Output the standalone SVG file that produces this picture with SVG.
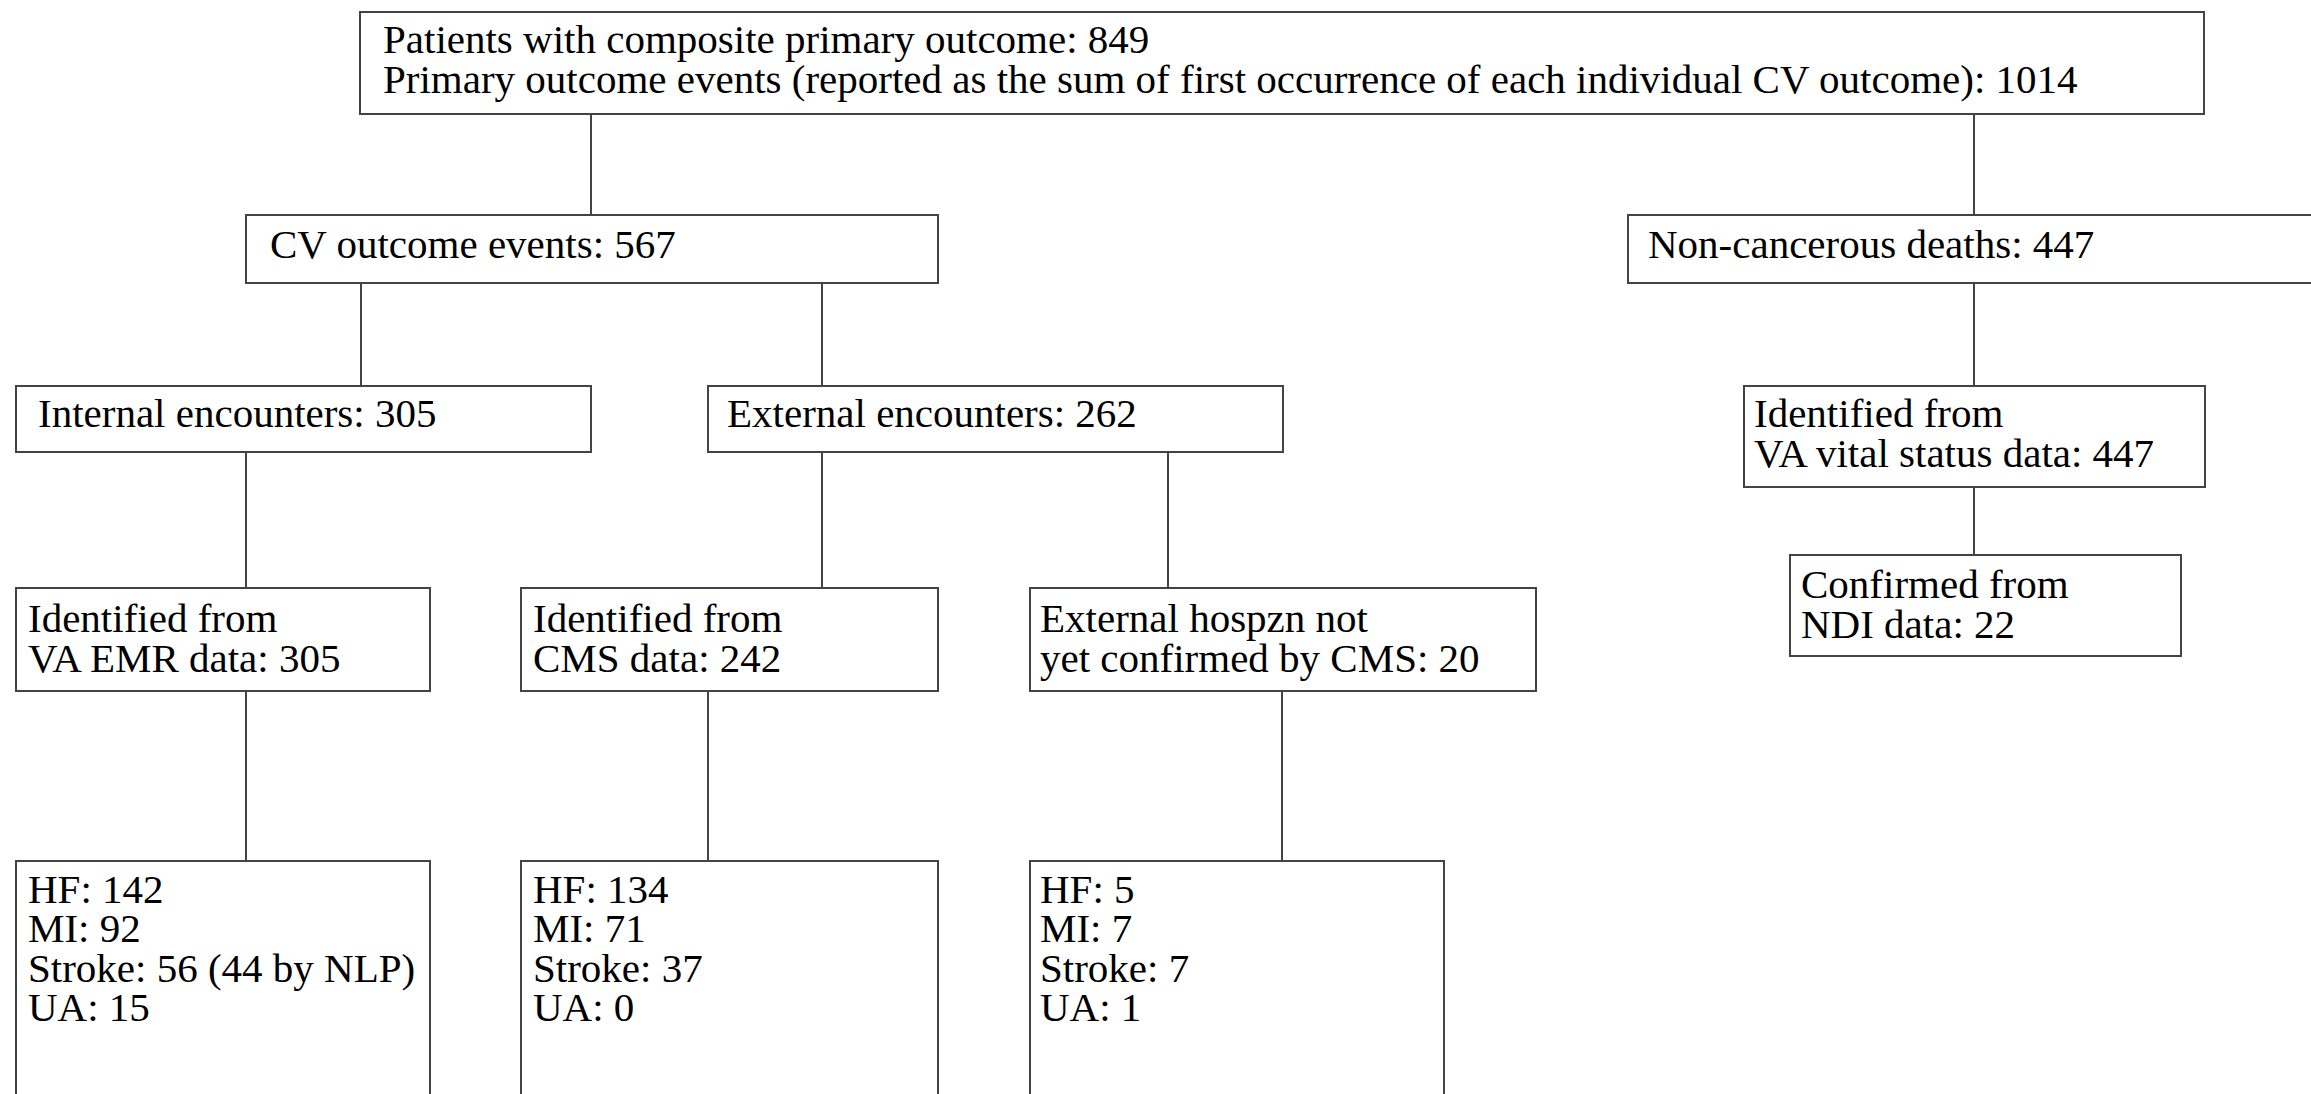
<svg xmlns="http://www.w3.org/2000/svg" width="2311" height="1094" viewBox="0 0 2311 1094">
<style>
.box{fill:#fff;stroke:#444;stroke-width:2}
.ln{stroke:#444;stroke-width:2;fill:none}
text{font-family:"Liberation Serif","Times New Roman",serif;font-size:41px;fill:#000}
</style>
<rect width="2311" height="1094" fill="#fff"/>
<g id="connectors">
<line class="ln" x1="591" y1="114" x2="591" y2="215"/>
<line class="ln" x1="1974" y1="114" x2="1974" y2="215"/>
<line class="ln" x1="361" y1="283" x2="361" y2="386"/>
<line class="ln" x1="822" y1="283" x2="822" y2="386"/>
<line class="ln" x1="1974" y1="283" x2="1974" y2="386"/>
<line class="ln" x1="246" y1="452" x2="246" y2="588"/>
<line class="ln" x1="822" y1="452" x2="822" y2="588"/>
<line class="ln" x1="1168" y1="452" x2="1168" y2="588"/>
<line class="ln" x1="1974" y1="487" x2="1974" y2="555"/>
<line class="ln" x1="246" y1="691" x2="246" y2="861"/>
<line class="ln" x1="708" y1="691" x2="708" y2="861"/>
<line class="ln" x1="1282" y1="691" x2="1282" y2="861"/>
</g>
<g id="top">
<rect class="box" x="360" y="12" width="1844" height="102"/>
<text x="383" y="53">Patients with composite primary outcome: 849</text>
<text x="383" y="93">Primary outcome events (reported as the sum of first occurrence of each individual CV outcome): 1014</text>
</g>
<g id="cv">
<rect class="box" x="246" y="215" width="692" height="68"/>
<text x="270" y="258">CV outcome events: 567</text>
</g>
<g id="noncancer">
<rect class="box" x="1628" y="215" width="700" height="68"/>
<text x="1648" y="258">Non-cancerous deaths: 447</text>
</g>
<g id="internal">
<rect class="box" x="16" y="386" width="575" height="66"/>
<text x="38" y="427">Internal encounters: 305</text>
</g>
<g id="external">
<rect class="box" x="708" y="386" width="575" height="66"/>
<text x="727" y="427">External encounters: 262</text>
</g>
<g id="vital">
<rect class="box" x="1744" y="386" width="461" height="101"/>
<text x="1754" y="427">Identified from</text>
<text x="1754" y="467">VA vital status data: 447</text>
</g>
<g id="ndi">
<rect class="box" x="1790" y="555" width="391" height="101"/>
<text x="1801" y="598">Confirmed from</text>
<text x="1801" y="638">NDI data: 22</text>
</g>
<g id="vaemr">
<rect class="box" x="16" y="588" width="414" height="103"/>
<text x="28" y="632">Identified from</text>
<text x="28" y="672">VA EMR data: 305</text>
</g>
<g id="cms">
<rect class="box" x="521" y="588" width="417" height="103"/>
<text x="533" y="632">Identified from</text>
<text x="533" y="672">CMS data: 242</text>
</g>
<g id="hospzn">
<rect class="box" x="1030" y="588" width="506" height="103"/>
<text x="1040" y="632">External hospzn not</text>
<text x="1040" y="672">yet confirmed by CMS: 20</text>
</g>
<g id="vaemr-detail">
<rect class="box" x="16" y="861" width="414" height="260"/>
<text x="28" y="903">HF: 142</text>
<text x="28" y="942">MI: 92</text>
<text x="28" y="982">Stroke: 56 (44 by NLP)</text>
<text x="28" y="1021">UA: 15</text>
</g>
<g id="cms-detail">
<rect class="box" x="521" y="861" width="417" height="260"/>
<text x="533" y="903">HF: 134</text>
<text x="533" y="942">MI: 71</text>
<text x="533" y="982">Stroke: 37</text>
<text x="533" y="1021">UA: 0</text>
</g>
<g id="hospzn-detail">
<rect class="box" x="1030" y="861" width="414" height="260"/>
<text x="1040" y="903">HF: 5</text>
<text x="1040" y="942">MI: 7</text>
<text x="1040" y="982">Stroke: 7</text>
<text x="1040" y="1021">UA: 1</text>
</g>
</svg>
